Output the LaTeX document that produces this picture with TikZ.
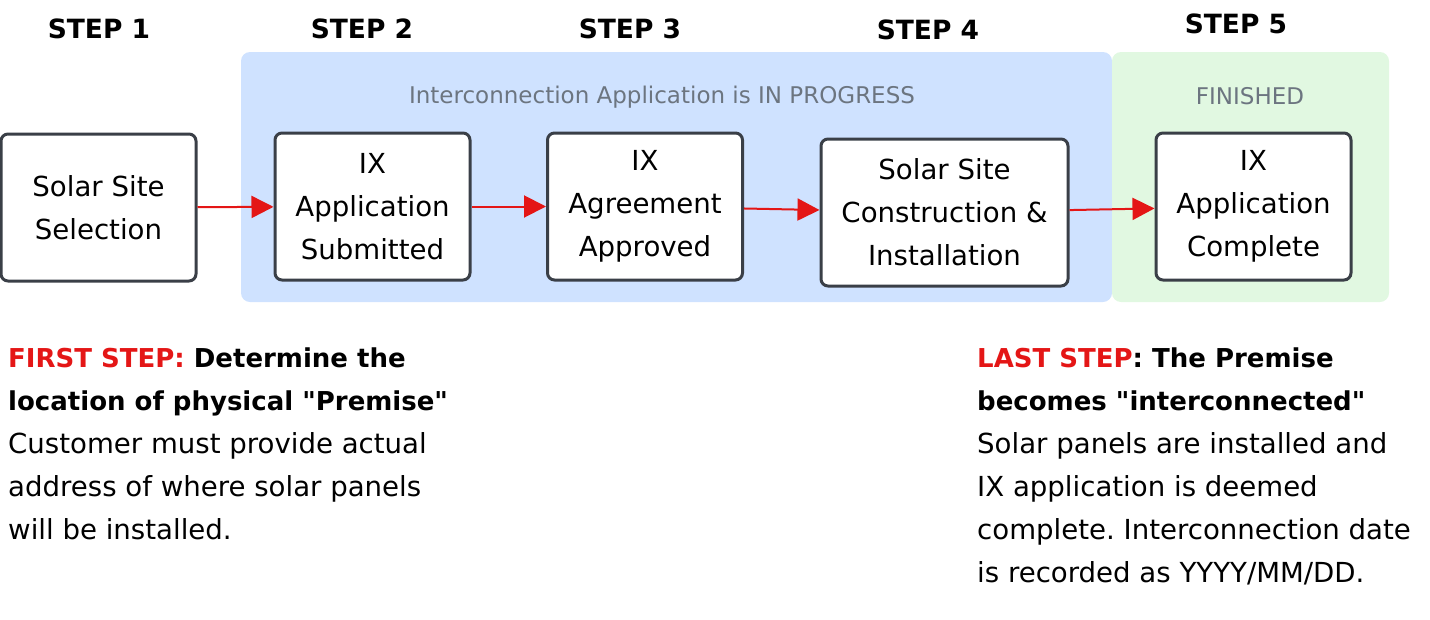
\documentclass[tikz,border=0pt]{standalone}
\usepackage{fontspec}
\setmainfont{DejaVu Sans}
\usetikzlibrary{positioning, arrows.meta, calc}
\definecolor{IXBorder}{RGB}{58,63,71}
\definecolor{IXRed}{RGB}{228,22,22}
\definecolor{IXGray}{RGB}{108,117,128}
\definecolor{IXBlue}{RGB}{207,226,255}
\definecolor{IXGreen}{RGB}{225,248,225}
\frenchspacing
\newcommand{\notehead}[1]{{\fontsize{26}{43}\selectfont\bfseries #1}}

\begin{document}
\begin{tikzpicture}[
  x=1pt, y=-1pt,
  stepbox/.style={rectangle, rounded corners=7pt, draw=IXBorder, fill=white, line width=3pt, minimum width=195pt, minimum height=147pt, font=\fontsize{27.6}{43}\selectfont, align=center},
  steplabel/.style={font=\fontsize{26.5}{34}\selectfont\bfseries},
  zone/.style={rounded corners=9pt},
  zonetitle/.style={font=\fontsize{23}{28}\selectfont, text=IXGray},
  arrow/.style={-{Triangle[length=22pt, width=22pt]}, line width=2pt, IXRed},
  note/.style={font=\fontsize{27.6}{43}\selectfont, align=left, anchor=north west, inner sep=0pt}
]
\useasboundingbox (0,0) rectangle (1430,619);

% Zones
\fill[zone, IXBlue] (241,52) rectangle (1112,302);
\fill[zone, IXGreen] (1112,52) rectangle (1389,302);
\node[zonetitle] (progress) at (662,97) {Interconnection Application is IN PROGRESS};
\node[zonetitle] (finished) at (1250,96) {FINISHED};

% Step headings
\node[steplabel] (head1) at (99,29) {STEP 1};
\node[steplabel] (head2) at (362,29) {STEP 2};
\node[steplabel] (head3) at (630,29) {STEP 3};
\node[steplabel] (head4) at (928,30) {STEP 4};
\node[steplabel] (head5) at (1236,24) {STEP 5};

% Steps
\node[stepbox] (site) at (98.5,207.5) {Solar Site\\Selection};
\node[stepbox] (submitted) at (372.5,206.5) {IX\\Application\\Submitted};
\node[stepbox] (approved) at (645,206.5) {IX\\Agreement\\Approved};
\node[stepbox, minimum width=247pt] (install) at (944.5,212.5) {Solar Site\\Construction \&\\Installation};
\node[stepbox] (complete) at (1253.5,206.5) {IX\\Application\\Complete};

% Arrows
\draw[arrow] (site) -- (submitted);
\draw[arrow] (submitted) -- (approved);
\draw[arrow] (approved) -- (install);
\draw[arrow] (install) -- (complete);

% Notes
\node[note] (firstnote) at (8,348) {\notehead{\textcolor{IXRed}{FIRST STEP:} Determine the}\\\notehead{location of physical \textquotedbl Premise\textquotedbl}\\Customer must provide actual\\address of where solar panels\\will be installed.};
\node[note] (lastnote) at (977,348) {\notehead{\textcolor{IXRed}{LAST STEP}: The Premise}\\\notehead{becomes \textquotedbl interconnected\textquotedbl}\\Solar panels are installed and\\IX application is deemed\\complete. Interconnection date\\is recorded as YYYY/MM/DD.};

\end{tikzpicture}
\end{document}
